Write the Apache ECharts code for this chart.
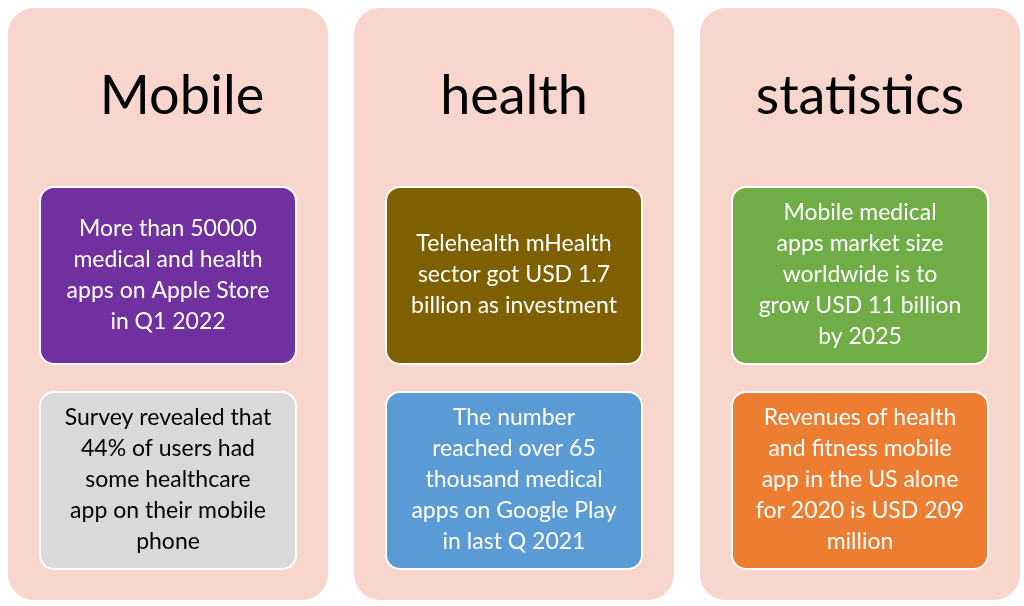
<!DOCTYPE html>
<html><head><meta charset="utf-8">
<script src="https://cdn.jsdelivr.net/npm/echarts@6/dist/echarts.min.js"></script>
<style>html,body{margin:0;padding:0;background:#fff}#c{width:1024px;height:606px}</style>
</head><body><div id="c"></div>
<script>
var titles = ["Mobile", "health", "statistics"];
var topTexts = [
	"More than 50000\nmedical and health\napps on Apple Store\nin Q1 2022",
	"Telehealth mHealth\nsector got USD 1.7\nbillion as investment",
	"Mobile medical\napps market size\nworldwide is to\ngrow USD 11 billion\nby 2025"
];
var bottomTexts = [
	"Survey revealed that\n44% of users had\nsome healthcare\napp on their mobile\nphone",
	"The number\nreached over 65\nthousand medical\napps on Google Play\nin last Q 2021",
	"Revenues of health\nand fitness mobile\napp in the US alone\nfor 2020 is USD 209\nmillion"
];
var topColors = ["#7030A0", "#7F6000", "#70AD47"];
var bottomColors = ["#D9D9D9", "#5B9BD5", "#ED7D31"];
var bottomTextColors = ["#000", "#fff", "#fff"];

var chart = echarts.init(document.getElementById('c'));
var elements = [],
	i, px, bx;

function box(x, y, fill, text, color) {
	return {
		type: 'group', x: x, y: y,
		children: [
			{ type: 'rect', shape: { x: 0, y: 0, width: 256, height: 177, r: 14 },
				style: { fill: fill, stroke: '#fff', lineWidth: 2 } },
			{ type: 'text', x: 128, y: 88,
				style: { text: text, fill: color, font: '23px Lato', align: 'center',
					verticalAlign: 'middle', lineHeight: 31 } }
		]
	};
}

for (i = 0; i < titles.length; i++) {
	px = 8 + i * 346;
	bx = px + 32;
	elements.push({ type: 'rect', shape: { x: px, y: 8, width: 320, height: 592, r: 26 },
		style: { fill: '#F8D5CD' } });
	elements.push({ type: 'text', x: px + 160 + (i == 0 ? 14 : 0), y: 97,
		style: { text: titles[i], fill: '#000', font: '54px Lato', align: 'center', verticalAlign: 'middle' } });
	elements.push(box(bx, 187, topColors[i], topTexts[i], '#fff'));
	elements.push(box(bx, 392, bottomColors[i], bottomTexts[i], bottomTextColors[i]));
}

chart.setOption({ animation: false, graphic: { elements: elements } });
</script></body></html>
